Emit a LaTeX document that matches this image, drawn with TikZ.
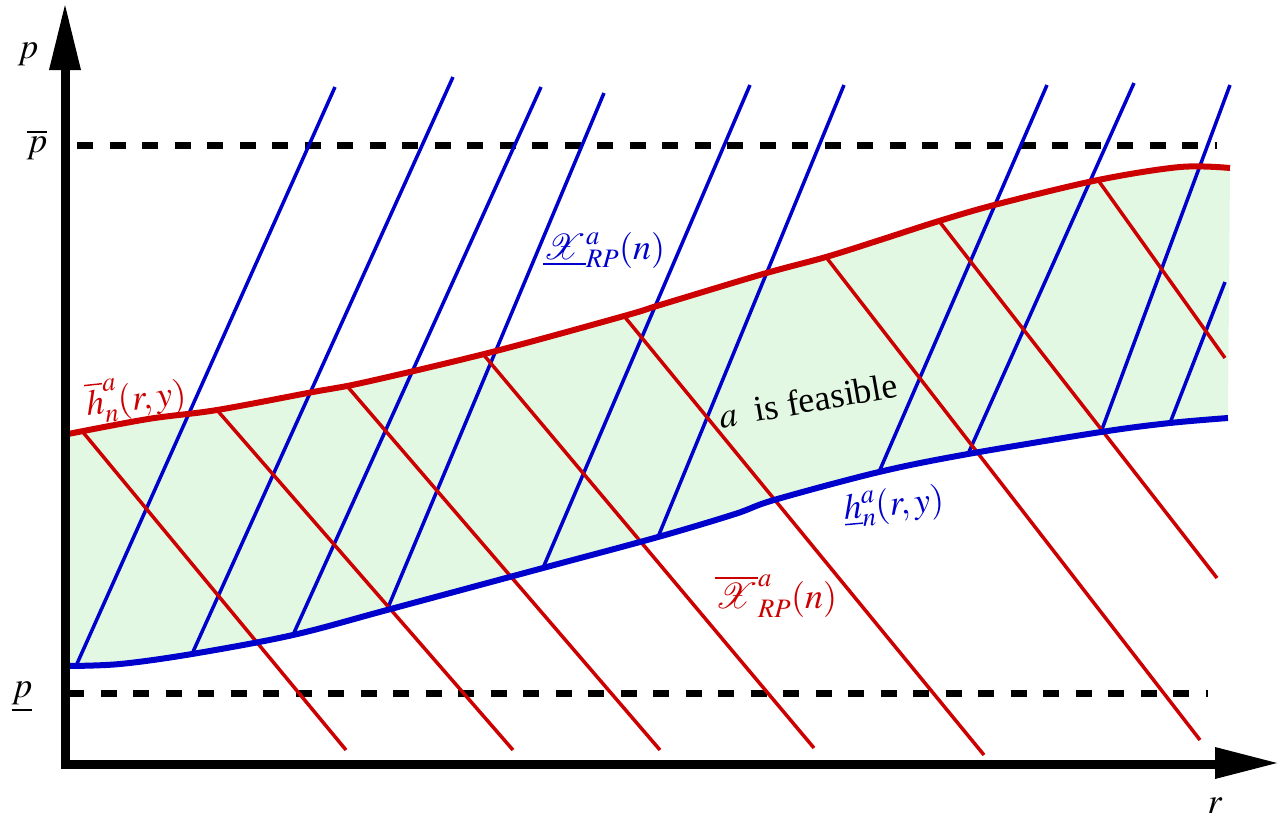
\documentclass[tikz,border=0pt]{standalone}
\usepackage{mathptmx}
\usepackage{anyfontsize}
\usepackage{fontspec}
\setmainfont{Liberation Serif}
\definecolor{cblue}{RGB}{0,0,204}
\definecolor{cred}{RGB}{204,0,0}
\definecolor{cgreen}{RGB}{227,248,227}
\begin{document}
\begin{tikzpicture}[x=1pt,y=-1pt,
  hatchb/.style={cblue,line width=3.5pt},
  hatchr/.style={cred,line width=3.5pt},
  bound/.style={line width=6pt},
  dashline/.style={line width=7pt,dash pattern=on 16pt off 16.5pt},
  lbl/.style={font=\fontsize{36}{42}\selectfont,inner sep=0pt}]
\useasboundingbox (0,0) rectangle (1280,825);
% feasible region
\fill[cgreen] plot[smooth,tension=0.55] coordinates {(68,434) (148,419) (217,410) (313,392) (366,382) (492,352) (624,316) (660,305) (763,274) (826,257) (880,240) (939,221) (998,204) (1098,180) (1180,167) (1230,168)}
  -- (1228,418) -- plot[smooth,tension=0.55] coordinates {(1228,418) (1170,423) (1101,432) (968,454) (879,472) (774,500) (735,514) (658,537) (543,568) (387,610) (293,635) (192,654) (120,664) (68,666)} -- cycle;
% dashed bounds
\coordinate (pt1) at (77,145); \coordinate (pt2) at (1217,145);
\coordinate (pb1) at (68,693); \coordinate (pb2) at (1208,693);
\draw[dashline] (pt1) -- (pt2);
\draw[dashline] (pb1) -- (pb2);
% blue hatch
\foreach \a/\b in {{(76,666)}/{(335,87)},{(192,654)}/{(453,77)},{(293,635)}/{(541,87)},{(387,610)}/{(604,93)},{(543,568)}/{(750,85)},{(658,537)}/{(844,85)},{(879,472)}/{(1047,85)},{(968,454)}/{(1134,83)},{(1101,432)}/{(1230,85)},{(1170,423)}/{(1225,282)}}
  \draw[hatchb] \a -- \b;
% red hatch
\foreach \a/\b in {{(82,431)}/{(346,750)},{(217,410)}/{(513,750)},{(347,386)}/{(660,750)},{(483,354)}/{(814,748)},{(624,316)}/{(984,755)},{(826,257)}/{(1200,740)},{(939,221)}/{(1217,578)},{(1098,180)}/{(1225,358)}}
  \draw[hatchr] \a -- \b;
% boundary curves
\draw[bound,cred] plot[smooth,tension=0.55] coordinates {(68,434) (148,419) (217,410) (313,392) (366,382) (492,352) (624,316) (660,305) (763,274) (826,257) (880,240) (939,221) (998,204) (1098,180) (1180,167) (1230,168)};
\draw[bound,cblue] plot[smooth,tension=0.55] coordinates {(68,666) (120,664) (192,654) (293,635) (387,610) (543,568) (658,537) (735,514) (774,500) (879,472) (968,454) (1101,432) (1170,423) (1228,418)};
% axes
\coordinate (ytop) at (65,70); \coordinate (orig) at (65,764); \coordinate (xend) at (1215,764);
\draw[line width=9pt] (ytop) -- (orig) -- (xend);
\fill (65,5) -- (49,70) -- (81,70) -- cycle;
\fill (1277,763) -- (1215,747) -- (1215,779) -- cycle;
% labels
\node[lbl] (pl) at (28,54) {$p$};
\node[lbl] (pbar) at (37,145) {$\overline{p}$};
\node[lbl] (punder) at (22,697) {$\underline{p}$};
\node[lbl] (rl) at (1215,806) {$r$};
\node[lbl,cred,rotate=6] (hbar) at (136,398) {$\overline{h}^a_n(r,y)$};
\node[lbl,cblue] (Xund) at (604,250) {$\underline{\mathcal{X}}^a_{RP}(n)$};
\node[lbl,rotate=10] (feas) at (808,400) {$a$\ \ is feasible};
\node[lbl,cblue,rotate=5] (hund) at (894,506) {$\underline{h}^a_n(r,y)$};
\node[lbl,cred] (Xbar) at (776,596) {$\overline{\mathcal{X}}^a_{RP}(n)$};
\end{tikzpicture}
\end{document}
